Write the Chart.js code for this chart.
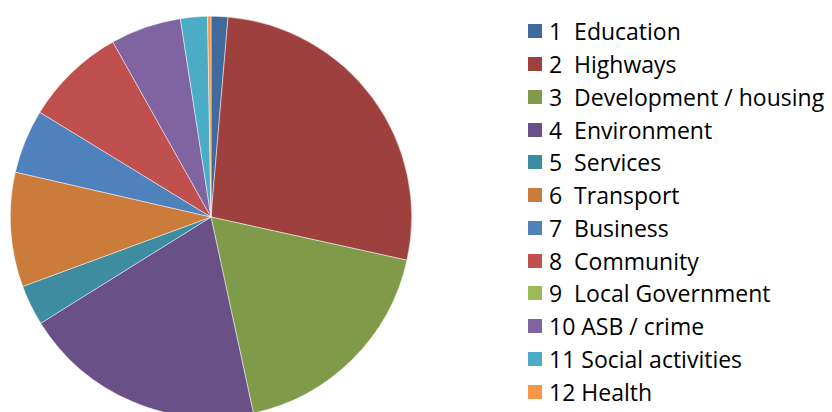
<!DOCTYPE html>
<html>
<head>
<meta charset="utf-8">
<script src="https://cdn.jsdelivr.net/npm/chart.js@4.4.1/dist/chart.umd.min.js"></script>
<style>
    html, body { margin: 0; padding: 0; background: #fff; width: 832px; height: 412px; overflow: hidden; }
    #pieBox { position: absolute; left: 10px; top: 16px; width: 402px; height: 402px; }
    #legend { position: absolute; left: 528px; top: 15px; font-family: "Open Sans", Lato, sans-serif; font-size: 23px; color: #000; }
    .row { height: 32.76px; display: flex; align-items: center; white-space: pre; }
    .sw { width: 14px; height: 14px; margin-right: 7px; flex: none; }
</style>
</head>
<body>
<div id="pieBox"><canvas id="pieChart"></canvas></div>
<div id="legend"></div>
<script>
// 項目名（凡例の表記そのまま）
const labels = [
    '1  Education', '2  Highways', '3  Development / housing', '4  Environment',
    '5  Services', '6  Transport', '7  Business', '8  Community',
    '9  Local Government', '10 ASB / crime', '11 Social activities', '12 Health'
];
// 件数
const counts = [5, 100, 67, 72, 12, 34, 19, 30, 0, 21, 8, 1];
const colors = [
    '#416a9c', '#9e413e', '#7f9b4a', '#695086', '#3d8ca0', '#cb7b3a',
    '#4f81bd', '#c0504d', '#9bbb59', '#8064a2', '#4bacc6', '#f79646'
];

document.addEventListener('DOMContentLoaded', () => {
    drawPie();
    buildLegend();
});

function drawPie() {
    const ctx = document.getElementById('pieChart').getContext('2d');
    new Chart(ctx, {
        type: 'pie',
        data: {
            labels: labels,
            datasets: [{
                data: counts,
                backgroundColor: colors,
                borderColor: 'rgba(255,255,255,0.8)',
                borderWidth: 0.6
            }]
        },
        options: {
            responsive: true,
            maintainAspectRatio: false,
            animation: false,
            layout: { padding: 0 },
            plugins: {
                legend: { display: false },
                tooltip: { enabled: false }
            }
        }
    });
}

// 凡例はHTMLで作る
function buildLegend() {
    const box = document.getElementById('legend');
    labels.forEach((label, i) => {
        const row = document.createElement('div');
        row.className = 'row';
        const sw = document.createElement('span');
        sw.className = 'sw';
        sw.style.background = colors[i];
        const txt = document.createElement('span');
        txt.textContent = label;
        row.appendChild(sw);
        row.appendChild(txt);
        box.appendChild(row);
    });
}
</script>
</body>
</html>
